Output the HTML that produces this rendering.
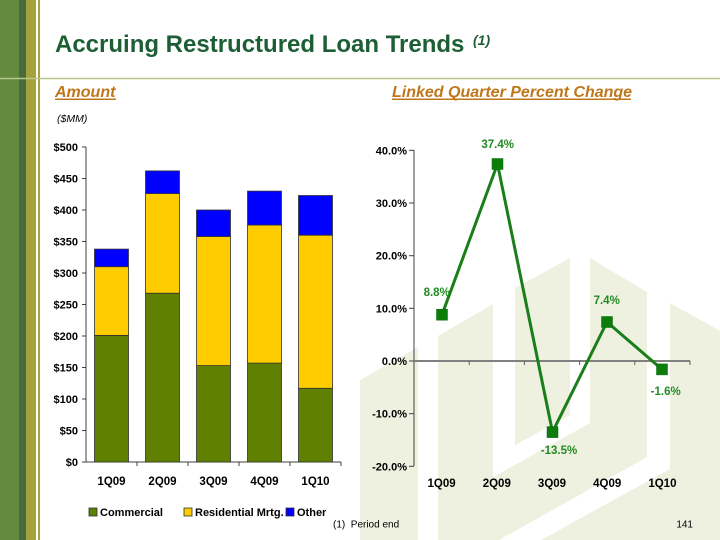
<!DOCTYPE html>
<html><head><meta charset="utf-8"><style>
html,body{margin:0;padding:0;background:#fff;}
svg{display:block;}
text{font-family:"Liberation Sans",Arial,sans-serif;}
</style></head><body>
<svg width="720" height="540" viewBox="0 0 720 540" xmlns="http://www.w3.org/2000/svg">
<rect width="720" height="540" fill="#fff"/>
<!-- watermark -->
<g fill="#eef0e0">
<polygon points="360,380 418,347 418,540 360,540"/>
<polygon points="438,336 493,304 493,477 590,423 590,258 647,292 647,457 499,540 438,540"/>
<polygon points="515,288 570,258 570,415 515,445"/>
<polygon points="670,303 720,331 720,540 541,540 670,469"/>
</g>
<!-- left stripes -->
<rect x="0" y="0" width="19" height="540" fill="#638a3e"/>
<rect x="19" y="0" width="7" height="540" fill="#476b3d"/>
<rect x="26" y="0" width="10" height="540" fill="#a4a23c"/>
<rect x="38" y="0" width="2" height="540" fill="#a4a23c"/>
<line x1="0" y1="78.5" x2="720" y2="78.5" stroke="#b9c68c" stroke-width="1.5"/>
<!-- title -->
<text x="55" y="52" font-size="24" font-weight="bold" fill="#1d5f35">Accruing Restructured Loan Trends</text>
<text x="473" y="45" font-size="14" font-weight="bold" font-style="italic" fill="#1d5f35">(1)</text>
<text x="55" y="97" font-size="16" font-weight="bold" font-style="italic" fill="#c0761a">Amount</text>
<line x1="55" y1="99.3" x2="116" y2="99.3" stroke="#c0761a" stroke-width="1.5"/>
<text x="392" y="97" font-size="16" font-weight="bold" font-style="italic" fill="#c0761a">Linked Quarter Percent Change</text>
<line x1="392" y1="99.3" x2="631" y2="99.3" stroke="#c0761a" stroke-width="1.5"/>
<text x="57" y="122" font-size="10.5" font-style="italic" fill="#000">($MM)</text>

<!-- bar chart axes -->
<g stroke="#404040" stroke-width="1">
<line x1="86" y1="147" x2="86" y2="462"/>
<line x1="86" y1="462" x2="341" y2="462"/>
<line x1="82" y1="462" x2="86" y2="462"/>
<line x1="82" y1="430.5" x2="86" y2="430.5"/>
<line x1="82" y1="399" x2="86" y2="399"/>
<line x1="82" y1="367.5" x2="86" y2="367.5"/>
<line x1="82" y1="336" x2="86" y2="336"/>
<line x1="82" y1="304.5" x2="86" y2="304.5"/>
<line x1="82" y1="273" x2="86" y2="273"/>
<line x1="82" y1="241.5" x2="86" y2="241.5"/>
<line x1="82" y1="210" x2="86" y2="210"/>
<line x1="82" y1="178.5" x2="86" y2="178.5"/>
<line x1="82" y1="147" x2="86" y2="147"/>
<line x1="137" y1="462" x2="137" y2="466"/>
<line x1="188" y1="462" x2="188" y2="466"/>
<line x1="239" y1="462" x2="239" y2="466"/>
<line x1="290" y1="462" x2="290" y2="466"/>
<line x1="341" y1="462" x2="341" y2="466"/>
</g>
<g font-size="11" font-weight="bold" fill="#000" text-anchor="end">
<text x="78" y="466">$0</text>
<text x="78" y="434.5">$50</text>
<text x="78" y="403">$100</text>
<text x="78" y="371.5">$150</text>
<text x="78" y="340">$200</text>
<text x="78" y="308.5">$250</text>
<text x="78" y="277">$300</text>
<text x="78" y="245.5">$350</text>
<text x="78" y="214">$400</text>
<text x="78" y="182.5">$450</text>
<text x="78" y="151">$500</text>
</g>
<!-- bars -->
<g stroke="#333" stroke-width="0.8">
<rect x="94.5" y="335.4" width="34" height="126.6" fill="#5f8000"/>
<rect x="94.5" y="266.7" width="34" height="68.7" fill="#ffcc00"/>
<rect x="94.5" y="249.1" width="34" height="17.6" fill="#0000ff"/>
<rect x="145.5" y="293.2" width="34" height="168.8" fill="#5f8000"/>
<rect x="145.5" y="193.6" width="34" height="99.6" fill="#ffcc00"/>
<rect x="145.5" y="170.9" width="34" height="22.7" fill="#0000ff"/>
<rect x="196.5" y="365.6" width="34" height="96.4" fill="#5f8000"/>
<rect x="196.5" y="236.5" width="34" height="129.1" fill="#ffcc00"/>
<rect x="196.5" y="210" width="34" height="26.5" fill="#0000ff"/>
<rect x="247.5" y="363.1" width="34" height="98.9" fill="#5f8000"/>
<rect x="247.5" y="225.1" width="34" height="138" fill="#ffcc00"/>
<rect x="247.5" y="191.1" width="34" height="34" fill="#0000ff"/>
<rect x="298.5" y="388.3" width="34" height="73.7" fill="#5f8000"/>
<rect x="298.5" y="235.2" width="34" height="153.1" fill="#ffcc00"/>
<rect x="298.5" y="195.5" width="34" height="39.7" fill="#0000ff"/>
</g>
<g font-size="11.5" font-weight="bold" fill="#000" text-anchor="middle">
<text x="111.5" y="485">1Q09</text>
<text x="162.5" y="485">2Q09</text>
<text x="213.5" y="485">3Q09</text>
<text x="264.5" y="485">4Q09</text>
<text x="315.5" y="485">1Q10</text>
</g>
<!-- legend -->
<g stroke="#333" stroke-width="0.8">
<rect x="89" y="508" width="8" height="8" fill="#5f8000"/>
<rect x="184" y="508" width="8" height="8" fill="#ffcc00"/>
<rect x="286" y="508" width="8" height="8" fill="#0000ff"/>
</g>
<g font-size="11" font-weight="bold" fill="#000">
<text x="100" y="516">Commercial</text>
<text x="195" y="516">Residential Mrtg.</text>
<text x="297" y="516">Other</text>
</g>

<!-- line chart -->
<g stroke="#404040" stroke-width="1">
<line x1="414" y1="150" x2="414" y2="466"/>
<line x1="409" y1="150.3" x2="414" y2="150.3"/>
<line x1="409" y1="203" x2="414" y2="203"/>
<line x1="409" y1="255.7" x2="414" y2="255.7"/>
<line x1="409" y1="308.3" x2="414" y2="308.3"/>
<line x1="409" y1="361" x2="414" y2="361"/>
<line x1="409" y1="413.7" x2="414" y2="413.7"/>
<line x1="409" y1="466.3" x2="414" y2="466.3"/>
</g>
<line x1="414" y1="361" x2="690" y2="361" stroke="#808080" stroke-width="2"/>
<g stroke="#606060" stroke-width="1">
<line x1="469.2" y1="361" x2="469.2" y2="365"/>
<line x1="524.4" y1="361" x2="524.4" y2="365"/>
<line x1="579.6" y1="361" x2="579.6" y2="365"/>
<line x1="634.8" y1="361" x2="634.8" y2="365"/>
<line x1="690" y1="361" x2="690" y2="365"/>
</g>
<g font-size="11" font-weight="bold" fill="#000" text-anchor="end">
<text x="407" y="154.3">40.0%</text>
<text x="407" y="207">30.0%</text>
<text x="407" y="259.7">20.0%</text>
<text x="407" y="312.3">10.0%</text>
<text x="407" y="365">0.0%</text>
<text x="407" y="417.7">-10.0%</text>
<text x="407" y="470.3">-20.0%</text>
</g>
<g font-size="11.5" font-weight="bold" fill="#000" text-anchor="middle">
<text x="441.6" y="487">1Q09</text>
<text x="496.8" y="487">2Q09</text>
<text x="552" y="487">3Q09</text>
<text x="607.2" y="487">4Q09</text>
<text x="662.4" y="487">1Q10</text>
</g>
<polyline points="442,314.7 497.5,164 552.5,432.1 607,322 662,369.4" fill="none" stroke="#1a7f1a" stroke-width="3" stroke-linejoin="round"/>
<g fill="#0a7d0a" stroke="#0a6a0a" stroke-width="0.5">
<rect x="436.5" y="309.2" width="11" height="11"/>
<rect x="492" y="158.5" width="11" height="11"/>
<rect x="547" y="426.6" width="11" height="11"/>
<rect x="601.5" y="316.5" width="11" height="11"/>
<rect x="656.5" y="363.9" width="11" height="11"/>
</g>
<g font-size="11.5" font-weight="bold" fill="#238b23" text-anchor="middle">
<text x="436.7" y="296">8.8%</text>
<text x="497.7" y="148">37.4%</text>
<text x="606.7" y="304">7.4%</text>
<text x="559" y="454">-13.5%</text>
<text x="665.7" y="395">-1.6%</text>
</g>

<!-- footer -->
<text x="333" y="527.5" font-size="10" fill="#000" xml:space="preserve">(1)  Period end</text>
<text x="693" y="527.5" font-size="10" fill="#000" text-anchor="end">141</text>
</svg>
</body></html>
